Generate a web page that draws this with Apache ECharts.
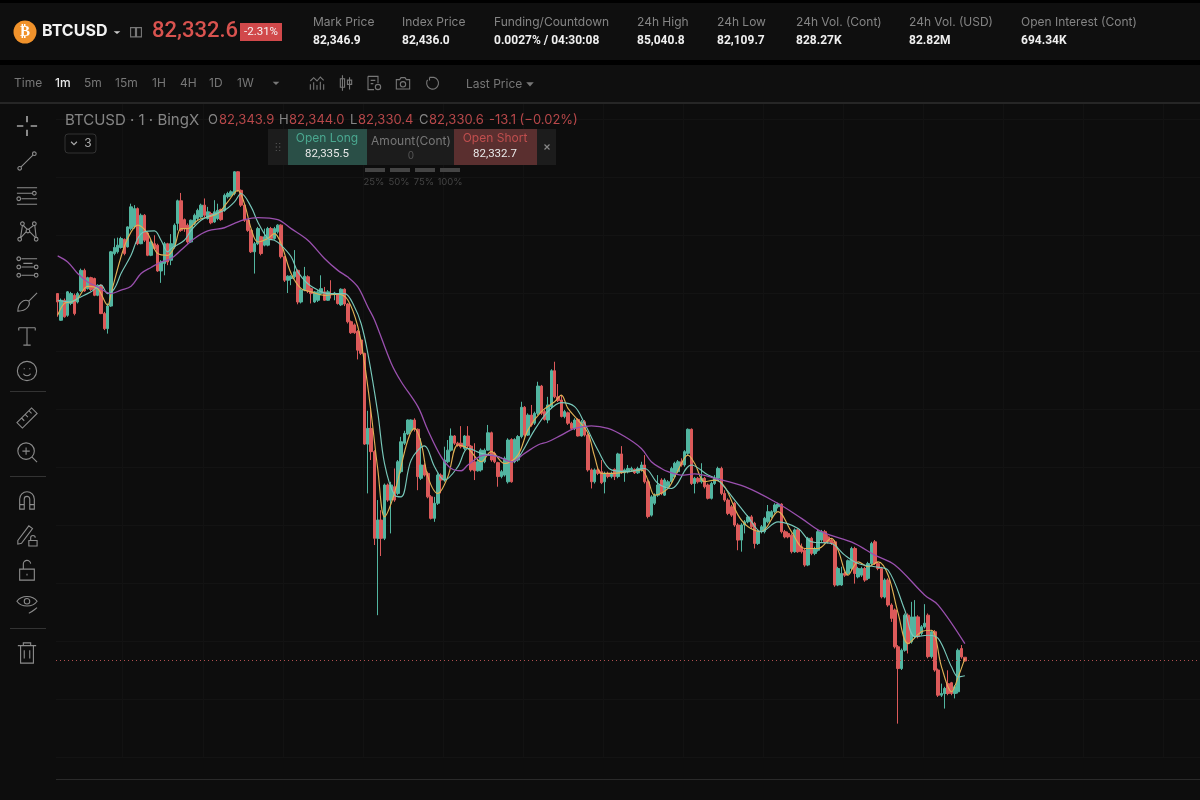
<!DOCTYPE html>
<html><head><meta charset="utf-8">
<style>html,body{margin:0;padding:0;background:#000}#c{width:1200px;height:800px}</style>
<script src="https://cdn.jsdelivr.net/npm/echarts@6/dist/echarts.min.js"></script>
</head><body><div id="c"></div>
<script>
const opens=[83598,83506,83575,83523,83564,83592,83569,83607,83678,83615,
83653,83650,83592,83627,83529,83477,83555,83736,83742,83757,
83785,83759,83822,83828,83891,83770,83868,83807,83730,83770,
83765,83676,83702,83770,83713,83759,83840,83918,83853,83834,
83776,83840,83857,83862,83903,83857,83874,83845,83857,83888,
83885,83932,83937,83943,84018,83954,83903,83851,83816,83742,
83770,83794,83765,83765,83822,83788,83811,83834,83725,83644,
83650,83656,83678,83569,83610,83656,83615,83569,83575,83598,
83604,83575,83598,83596,83598,83559,83613,83562,83501,83490,
83467,83438,83392,83079,83133,83053,82754,82817,82754,82938,
82886,82932,82909,82984,83082,83114,83127,83162,83130,82961,
83007,82978,82897,82823,82875,82972,82955,83018,83058,83107,
83082,83082,83064,83107,83072,83018,82987,82990,83018,83058,
83118,83047,83015,82967,82972,82949,83095,83018,83024,83105,
83206,83110,83179,83151,83185,83279,83191,83162,83208,83332,
83242,83231,83174,83187,83151,83133,83164,83107,83156,83110,
82990,82949,82990,82984,82949,82978,82967,82992,82967,83045,
82980,82984,82990,82992,82980,82990,83007,82949,82834,82875,
82903,82955,82903,82932,82949,82966,82984,83018,83007,83047,
83130,82943,82961,82949,82961,82938,82892,82943,82961,82995,
82909,82886,82863,82875,82800,82748,82800,82811,82828,82806,
82736,82777,82777,82811,82828,82846,82863,82872,82777,82771,
82765,82708,82783,82725,82713,82662,82754,82702,82713,82748,
82777,82759,82748,82742,82593,82593,82633,82633,82650,82719,
82621,82627,82650,82616,82667,82742,82667,82650,82552,82610,
82524,82507,82380,82305,82368,82489,82397,82415,82483,82426,
82449,82489,82346,82432,82300,82213,82219,82253,82256,82219,
82225,82374,82344];
const closes=[83569,83575,83518,83604,83598,83529,83598,83678,83607,83653,
83612,83592,83627,83529,83477,83555,83742,83757,83765,83788,
83736,83828,83897,83891,83770,83868,83782,83730,83776,83753,
83676,83707,83770,83707,83770,83834,83918,83816,83822,83776,
83851,83868,83885,83903,83868,83880,83842,83880,83885,83853,
83937,83943,83949,84018,83954,83903,83851,83816,83742,83770,
83822,83736,83794,83822,83788,83822,83834,83725,83644,83658,
83658,83673,83569,83610,83658,83607,83598,83604,83604,83615,
83575,83604,83596,83600,83564,83613,83562,83501,83463,83463,
83403,83392,83079,83133,83053,82754,82817,82754,82938,82886,
82938,82886,83018,83087,83116,83162,83162,83130,82967,83007,
82972,82897,82823,82875,82972,82955,83024,83058,83107,83082,
83076,83070,83107,83072,82990,82987,83018,83058,83058,83118,
83024,83018,82967,82984,83030,83093,82949,83095,83105,83206,
83110,83179,83145,83185,83279,83185,83164,83214,83332,83242,
83229,83174,83191,83151,83133,83162,83107,83156,83110,82990,
82949,82990,82978,82946,82978,82967,82978,82967,83045,82980,
82990,82995,82995,82980,82995,83007,82949,82829,82897,82903,
82938,82909,82955,82949,82995,83013,83018,83007,83053,83130,
82943,82961,82949,82961,82932,82892,82943,82961,82995,82909,
82886,82840,82834,82800,82748,82800,82811,82828,82794,82736,
82777,82794,82823,82846,82846,82869,82872,82777,82759,82759,
82708,82783,82708,82708,82662,82754,82702,82719,82777,82777,
82742,82742,82736,82593,82650,82633,82627,82677,82719,82633,
82650,82650,82610,82667,82736,82667,82650,82552,82610,82524,
82478,82380,82305,82368,82489,82391,82483,82483,82415,82449,
82461,82346,82432,82300,82213,82219,82236,82219,82219,82242,
82368,82345,82331];
const lows=[83518,83504,83515,83518,83558,83523,83564,83604,83604,83612,
83607,83589,83589,83527,83472,83460,83552,83730,83736,83753,
83730,83757,83816,83822,83765,83768,83776,83727,83727,83748,
83673,83635,83661,83696,83696,83753,83816,83811,83811,83770,
83773,83834,83851,83857,83862,83853,83837,83842,83851,83849,
83880,83926,83932,83937,83949,83897,83845,83811,83738,83667,
83765,83730,83761,83761,83782,83784,83805,83719,83638,83600,
83627,83650,83561,83564,83606,83600,83564,83566,83569,83592,
83573,83573,83581,83575,83560,83555,83555,83495,83459,83459,
83371,83386,83076,82909,83024,82731,82489,82693,82748,82880,
82771,82880,82903,82978,83076,83110,83122,83122,82920,82955,
82967,82892,82819,82811,82869,82909,82949,83013,83053,83076,
83070,83064,83058,83064,82984,82955,82984,82984,83013,83056,
83018,83013,82932,82961,82967,82943,82946,83013,83018,83099,
83105,83107,83139,83145,83179,83179,83160,83151,83202,83237,
83224,83171,83168,83145,83127,83127,83105,83105,83105,82984,
82926,82943,82972,82941,82909,82961,82961,82955,82961,82976,
82949,82978,82984,82976,82976,82984,82943,82823,82829,82869,
82897,82903,82900,82926,82943,82961,82978,83001,83001,83041,
82938,82909,82943,82943,82926,82888,82888,82938,82955,82903,
82880,82834,82828,82794,82713,82708,82771,82806,82788,82719,
82731,82771,82771,82806,82823,82840,82857,82771,82754,82754,
82702,82704,82704,82702,82656,82658,82696,82696,82708,82742,
82736,82736,82731,82587,82589,82590,82621,82627,82644,82598,
82616,82621,82604,82610,82662,82662,82644,82547,82547,82518,
82466,82374,82115,82300,82363,82357,82391,82409,82409,82420,
82443,82340,82340,82294,82207,82207,82167,82213,82213,82202,
82219,82339,82330];
const highs=[83600,83581,83581,83607,83604,83598,83604,83684,83684,83656,
83656,83653,83630,83630,83535,83564,83745,83788,83791,83794,
83788,83830,83908,83903,83895,83874,83872,83811,83782,83799,
83770,83713,83776,83773,83803,83840,83922,83945,83857,83840,
83853,83874,83891,83908,83926,83897,83880,83920,83908,83891,
83943,83949,83954,84020,84020,83957,83908,83853,83819,83776,
83828,83796,83822,83828,83828,83828,83837,83837,83727,83661,
83661,83748,83681,83615,83690,83661,83619,83607,83610,83661,
83621,83610,83644,83604,83600,83616,83616,83565,83505,83495,
83472,83440,83394,83194,83199,83058,82886,82851,82943,82943,
82949,82995,83024,83104,83125,83164,83164,83168,83133,83099,
83013,82984,82903,82897,82978,82978,83070,83093,83133,83110,
83087,83141,83110,83141,83076,83082,83024,83064,83064,83145,
83122,83053,83018,82990,83036,83099,83099,83099,83110,83225,
83210,83185,83214,83191,83294,83283,83197,83242,83337,83363,
83286,83248,83197,83191,83156,83168,83168,83162,83162,83116,
82995,82995,83001,83024,82984,82984,82984,82995,83049,83072,
82995,83007,83001,82995,83001,83018,83041,82955,82903,82909,
82972,82961,82961,82955,83001,83018,83024,83030,83058,83133,
83133,82966,82966,83013,82966,82943,82949,82972,83001,83001,
82920,82892,82869,82880,82806,82806,82817,82834,82834,82811,
82783,82800,82828,82869,82851,82875,82877,82875,82783,82777,
82771,82788,82788,82736,82719,82759,82759,82725,82783,82783,
82783,82765,82754,82748,82656,82656,82639,82681,82725,82725,
82656,82656,82656,82673,82742,82748,82673,82656,82616,82616,
82530,82512,82386,82374,82495,82495,82535,82541,82489,82455,
82527,82495,82438,82438,82305,82253,82242,82299,82259,82248,
82374,82386,82344];

// moving averages as [candle index, price]
const maFast=[[0,83523],[2,83564],[4,83569],[6,83581],[9,83623],[12,83615],[15,83558],[16,83598],[19,83725],[21,83788],[24,83834],[27,83805],[30,83736],[33,83730],[35,83759],[37,83822],[39,83822],[42,83851],[45,83862],[48,83874],[51,83914],[54,83954],[56,83908],[58,83822],[60,83776],[63,83788],[65,83805],[67,83770],[70,83667],[73,83615],[76,83604],[80,83592],[84,83596],[87,83576],[90,83484],[92,83358],[94,83185],[96,82990],[98,82828],[100,82875],[102,82955],[105,83093],[107,83133],[109,83082],[111,82967],[114,82909],[117,82967],[120,83076],[123,83064],[127,83018],[130,83053],[134,83012],[138,83041],[141,83128],[145,83191],[149,83225],[151,83248],[153,83202],[156,83162],[159,83116],[161,83036],[163,82978],[166,82978],[171,82984],[175,82990],[177,82955],[179,82903],[183,82926],[186,82989],[189,83041],[191,83012],[194,82949],[197,82955],[200,82932],[204,82834],[207,82794],[211,82777],[216,82846],[220,82777],[224,82719],[228,82719],[232,82754],[234,82713],[237,82627],[240,82673],[243,82656],[246,82673],[249,82627],[252,82495],[255,82391],[259,82432],[262,82437],[265,82311],[268,82225],[270,82276],[272,82340]];
const maMid=[[0,83575],[4,83569],[6,83581],[10,83604],[13,83627],[15,83598],[17,83615],[19,83667],[22,83730],[24,83788],[26,83811],[29,83814],[31,83782],[33,83742],[34,83753],[38,83782],[40,83816],[43,83851],[46,83868],[50,83885],[53,83914],[55,83943],[58,83897],[60,83845],[63,83788],[65,83782],[67,83765],[70,83725],[72,83673],[75,83632],[78,83610],[81,83598],[86,83598],[89,83552],[91,83494],[93,83392],[96,83185],[98,83012],[101,82903],[103,82897],[106,83024],[110,83073],[113,83001],[116,82955],[120,83001],[123,83064],[127,83047],[132,83036],[136,83018],[138,83030],[143,83128],[147,83191],[151,83222],[155,83208],[158,83150],[162,83058],[166,82990],[171,82984],[176,82995],[180,82943],[184,82926],[190,83007],[195,82972],[198,82955],[203,82886],[207,82828],[211,82777],[216,82811],[222,82788],[226,82742],[232,82736],[236,82696],[240,82667],[245,82656],[249,82644],[254,82506],[257,82415],[261,82420],[264,82409],[268,82311],[270,82276],[272,82280]];
const maSlow=[[0,83728],[3,83707],[6,83667],[9,83638],[12,83621],[16,83598],[19,83610],[22,83623],[25,83667],[28,83688],[31,83707],[34,83719],[37,83748],[41,83788],[45,83814],[50,83825],[53,83840],[56,83853],[60,83860],[66,83853],[70,83822],[75,83782],[80,83719],[84,83678],[87,83655],[90,83621],[93,83552],[95,83507],[100,83358],[103,83294],[108,83208],[111,83127],[115,83035],[118,82995],[121,82987],[123,83007],[128,83041],[132,83036],[136,83018],[140,83047],[144,83076],[147,83087],[151,83110],[155,83133],[160,83142],[165,83133],[170,83105],[175,83064],[178,83018],[181,82995],[183,82984],[187,82972],[191,82976],[197,82961],[206,82932],[216,82874],[223,82823],[229,82777],[239,82736],[245,82696],[251,82662],[260,82558],[264,82524],[272,82391]];
const lastPrice=82332.6;
const slotCount=343;
const categories=Array.from({length:slotCount},(_,i)=>'m'+i);

const UP='#52b5a0',DOWN='#dc5a5a',F='Inter, "Noto Sans", sans-serif',R='Roboto, "Noto Sans", sans-serif';
const C=(x,y,r)=>`M${x-r} ${y}a${r} ${r} 0 1 0 ${2*r} 0a${r} ${r} 0 1 0 ${-2*r} 0Z`;

// header / toolbar texts: text,x,y,size,colour,weight,align,font
const texts=[
['BTCUSD',42,31.5,16,'#f2f2f2',700],
['82,332.6',152,31,22,'#d9534f',500,'left',R],
['-2.31%',261,32,11.5,'#f5f5f5',400,'center',R],
['Mark Price',313,22,12,'#858585',400],['82,346.9',313,41,12,'#f0f0f0',700,'left',R],
['Index Price',402,22,12,'#858585',400],['82,436.0',402,41,12,'#f0f0f0',700,'left',R],
['Funding/Countdown',494,22,12,'#858585',400],['0.0027% / 04:30:08',494,41,12,'#f0f0f0',700,'left',R],
['24h High',637,22,12,'#858585',400],['85,040.8',637,41,12,'#f0f0f0',700,'left',R],
['24h Low',717,22,12,'#858585',400],['82,109.7',717,41,12,'#f0f0f0',700,'left',R],
['24h Vol. (Cont)',796,22,12,'#858585',400],['828.27K',796,41,12,'#f0f0f0',700,'left',R],
['24h Vol. (USD)',909,22,12,'#858585',400],['82.82M',909,41,12,'#f0f0f0',700,'left',R],
['Open Interest (Cont)',1021,22,12,'#858585',400],['694.34K',1021,41,12,'#f0f0f0',700,'left',R],
['Time',14,83,12,'#777',400],['1m',55,83,12,'#e8e8e8',500],['5m',84,83,12,'#777',400],['15m',115,83,12,'#777',400],
['1H',152,83,12,'#777',400],['4H',180,83,12,'#777',400],['1D',209,83,12,'#777',400],['1W',237,83,12,'#777',400],
['Last Price',466,84,12,'#777',400],
['BTCUSD · 1 · BingX',65,120,15,'#858585',400],
['O',208,120,13,'#858585',400],['82,343.9',219,120,13,'#b8484a',400],
['H',279,120,13,'#858585',400],['82,344.0',289,120,13,'#b8484a',400],
['L',350,120,13,'#858585',400],['82,330.4',358,120,13,'#b8484a',400],
['C',419,120,13,'#858585',400],['82,330.6',429,120,13,'#b8484a',400],
['-13.1 (−0.02%)',489,120,13,'#b8484a',400],
['3',88,143,12,'#aaa',400,'center'],
['Open Long',327,138,12,'#4aa890',400,'center'],['82,335.5',327,154,11.5,'#e8e8e8',400,'center',R],
['Amount(Cont)',411,141,12,'#777',400,'center'],['0',411,156,10,'#555',400,'center'],
['Open Short',495,138,12,'#c04e4e',400,'center'],['82,332.7',495,154,11.5,'#e8e8e8',400,'center',R],
['25%',374,182,9.5,'#444',400,'center'],['50%',399,182,9.5,'#444',400,'center'],['75%',424,182,9.5,'#444',400,'center'],['100%',450,182,9.5,'#444',400,'center']
];
const rects=[
[0,0,1200,3,'#000'],[0,3,1200,57,'#0f0f0f'],[0,60,1200,5,'#000'],[0,65,1200,37,'#0f0f0f'],[0,102,1200,2,'#262626'],
[0,780,1200,20,'#0d0d0d'],[56,779,1144,1,'#2a2a2a'],
[240,23,42,18,'#d1494b'],
[268,129,288,36,'#1c1c1c'],[288,129,79,36,'#2a4f47'],[454,129,83,36,'#5a2f2f'],
[365,168,20,4,'#444'],[390,168,20,4,'#444'],[415,168,20,4,'#444'],[440,168,20,4,'#444'],
[10,391,36,1,'#333'],[10,476,36,1,'#333'],[10,628,36,1,'#333']
];
// tool icons: [centre x, centre y, path in a 24 box, colour, drawn size]
const G='#8c8c8c',H='#777';
const icons=[
[27,126,'M12 1V8M12 16V23M1 12H8M16 12H23','#f0f0f0',22],
[27,161,C(4,20,2)+C(20,4,2)+'M5.5 18.5L18.5 5.5',G,22],
[27,196,'M1 3H23M1 9H18M1 21H23M6 15H23'+C(20,9,2)+C(3,15,2),G,22],
[27,231,C(4,21,2)+C(7,4,2)+C(13,12,2)+C(20,4,2)+C(22,21,2)+'M5 19L7 6M8 6L12 10M14 10L19 6M15 13L21 19M5 19.5L11 13M20.5 6L22 19',G,22],
[27,267,'M6 3H23M6 12H20M6 21H20'+C(3,3,2)+C(3,12,2)+C(3,21,2)+C(22,12,2)+C(22,21,2)+'M8 8H18',G,22],
[27,302,'M2 22C2 14 8 8 14 11C16 15 12 22 2 22ZM14 11L23 2',G,22],
[27,336,'M3 3H21M12 3V22M8 22H16M3 3V6M21 3V6',G,22],
[27,371,C(12,12,10.5)+'M8 15C10 18 14 18 16 15M9 9V10M15 9V10',G,22],
[27,418,'M1 17L17 1L23 7L7 23ZM6 12L9 15M10 8L13 11M14 4L17 7',G,22],
[27,452,C(11,11,9)+'M11 7V15M7 11H15M17.5 17.5L23 23',G,22],
[27,500,'M4 22V11A8 8 0 0 1 20 11V22H15V11A3 3 0 0 0 9 11V22ZM4 17H9M15 17H20',G,22],
[27,535,'M2 18L14 2L18 5L6 21L2 22ZM14 18H23V24H14ZM16 18V15A2.5 2.5 0 0 1 21 15',G,22],
[27,570,'M4 11H20V23H4ZM8 11V6A4 4 0 0 1 16 5M12 16V18',G,22],
[27,604,C(12,9,3)+'M1 9C6 2 18 2 23 9C18 16 6 16 1 9ZM14 22C17 21 19 19 23 16',G,22],
[27,653,'M2 4H22M8 4V1H16V4M5 4V23H19V4M9 9V18M15 9V18',G,22],
[136,32,'M2 4H11V21H2ZM13 4H22V21H13Z',H,13],
[317,83,'M2 22V14M7 22V11M12 22V15M17 22V10M22 22V14M2 9L7 4L12 9L17 3L22 8',H,16],
[346,83,'M7 1V23M17 4V21M4 6H10V18H4ZM14 8H20V14H14Z',H,17],
[374,83,'M3 2H18V12M3 2V22H12M7 8H14M7 13H11'+C(18,18,4),H,16],
[403,83,'M2 7H7L9 4H15L17 7H22V21H2Z'+C(12,14,4),H,16],
[432,83,'M8 3H15A9.5 9.5 0 1 1 5 7M8 3V8',H,15]
];
const glyphs=[
[117,32,'M4 10H20L12 17Z','#ccc',true],[276,83,'M4 9H20L12 17Z','#777',true],[530,84,'M3 8H21L12 18Z','#777',true],
[74,143,'M5 9L12 16L19 9','#aaa',false],[547,147,'M6 6L18 18M18 6L6 18','#888',false],
[278,147,'M8 3V5M16 3V5M8 11V13M16 11V13M8 19V21M16 19V21','#666',false]
];

const graphic=[];
const shapeType=(path,name)=>{echarts.graphic.registerShape(name,echarts.graphic.extendPath(path,{}));return name;};
rects.forEach(r=>graphic.push({type:'rect',z:100,silent:true,shape:{x:r[0],y:r[1],width:r[2],height:r[3]},style:{fill:r[4]}}));
graphic.push({type:'circle',z:101,silent:true,shape:{cx:25,cy:32,r:11.5},style:{fill:'#f0922b'}});
graphic.push({type:'text',z:102,silent:true,style:{text:'₿',x:25,y:32,fill:'#fff',font:'700 15px "DejaVu Sans"',align:'center',verticalAlign:'middle'}});
graphic.push({type:'rect',z:101,silent:true,shape:{x:65,y:134,width:31,height:19,r:3},style:{fill:'none',stroke:'#333',lineWidth:1}});
texts.forEach(t=>graphic.push({type:'text',z:102,silent:true,style:{text:t[0],x:t[1],y:t[2],fill:t[4],font:`${t[5]} ${t[3]}px ${t[7]||F}`,align:t[6]||'left',verticalAlign:'middle'}}));
icons.forEach((k,i)=>graphic.push({type:shapeType(k[2],'toolIcon'+i),z:102,silent:true,x:k[0]-k[4]/2,y:k[1]-k[4]/2,scaleX:k[4]/24,scaleY:k[4]/24,style:{fill:'none',stroke:k[3],lineWidth:1.1*24/k[4]}}));
glyphs.forEach((k,i)=>graphic.push({type:shapeType(k[2],'glyph'+i),z:102,silent:true,x:k[0]-5,y:k[1]-5,scaleX:10/24,scaleY:10/24,style:k[4]?{fill:k[3],stroke:'none'}:{fill:'none',stroke:k[3],lineWidth:2.8}}));

const lineSeries=(data,color,width)=>({type:'line',data,smooth:0.35,showSymbol:false,symbol:'none',silent:true,z:5,lineStyle:{color,width},clip:true});
const chart=echarts.init(document.getElementById('c'),null,{renderer:'canvas'});
chart.setOption({
animation:false,backgroundColor:'#0d0d0d',
grid:{left:56,right:0,top:61,height:696,containLabel:false},
xAxis:{type:'category',data:categories,boundaryGap:true,axisLine:{show:false},axisTick:{show:false},axisLabel:{show:false},
 splitLine:{show:true,interval:i=>(i-20)%24===0,lineStyle:{color:'#121212',width:1}}},
yAxis:{type:'value',min:82000,max:84400,interval:200,axisLine:{show:false},axisTick:{show:false},axisLabel:{show:false},
 splitLine:{show:true,lineStyle:{color:'#131313',width:1}}},
series:[
{type:'candlestick',barWidth:3,z:3,silent:true,data:opens.map((o,i)=>[o,closes[i],lows[i],highs[i]]),
 itemStyle:{color:UP,color0:DOWN,borderColor:UP,borderColor0:DOWN,borderColorDoji:DOWN,borderWidth:1},
 markLine:{silent:true,symbol:'none',label:{show:false},lineStyle:{type:[1,3],color:'#b05050',width:1},data:[{yAxis:lastPrice}]}},
lineSeries(maFast,'#e0b055',1.15),
lineSeries(maMid,'#78c8ba',1.15),
lineSeries(maSlow,'#9a50ae',1.3)
],
graphic:{elements:graphic}
});
</script></body></html>
